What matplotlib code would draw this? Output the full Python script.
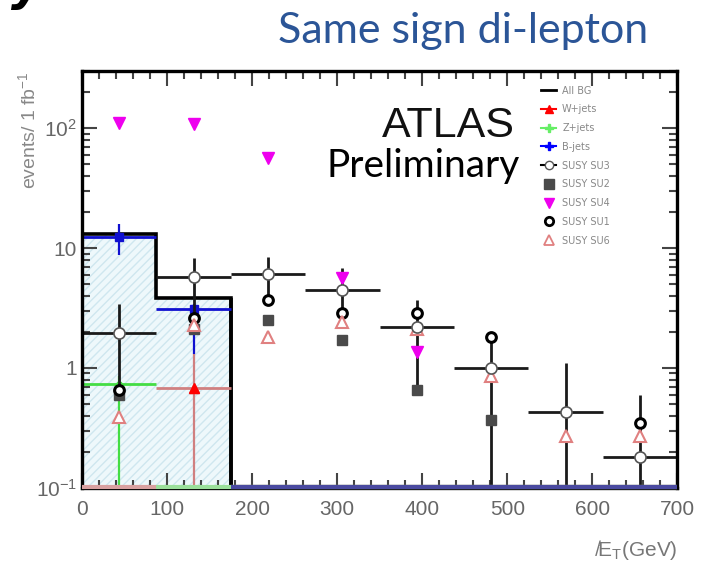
import numpy as np
import matplotlib.pyplot as plt
from matplotlib import font_manager
from matplotlib.lines import Line2D
from matplotlib.ticker import FixedLocator, FixedFormatter, MultipleLocator, LogLocator, NullFormatter

names = {f.name for f in font_manager.fontManager.ttflist}
narrow = 'Liberation Sans Narrow' if 'Liberation Sans Narrow' in names else 'Liberation Sans'
plt.rcParams['mathtext.fontset'] = 'custom'
plt.rcParams['mathtext.rm'] = narrow
plt.rcParams['mathtext.it'] = narrow

# histogram bins (GeV)
edges = [0, 87.5, 175, 262.5, 350, 437.5, 525, 612.5, 700]
centers = [43.75, 131.25, 218.75, 306.25, 393.75, 481.25, 568.75, 656.25]
FLOOR = 0.1

# backgrounds
all_bg = [13.1, 3.85, 0, 0, 0, 0, 0, 0]
w_jets = [0, 0.68, 0, 0, 0, 0, 0, 0]
w_hi = [0, 1.3, 0, 0, 0, 0, 0, 0]
z_jets = [0.74, 0, 0, 0, 0, 0, 0, 0]
z_hi = [0.85, 0, 0, 0, 0, 0, 0, 0]
b_jets = [12.5, 3.1, 0, 0, 0, 0, 0, 0]
b_lo = [8.7, 1.3, 0, 0, 0, 0, 0, 0]
b_hi = [16.0, 3.4, 0, 0, 0, 0, 0, 0]

# signal points
su3 = [1.95, 5.7, 6.1, 4.5, 2.2, 1.0, 0.43, 0.18]
su3_lo = [0.62, 2.0, 3.9, 2.8, 0.65, 0.1, 0.1, 0.1]
su3_hi = [3.4, 8.3, 8.5, 6.8, 3.7, 2.0, 1.1, 0.6]
su2 = [0.6, 2.1, 2.5, 1.7, 0.66, 0.37, np.nan, np.nan]
su4 = [110, 108, 56, 5.6, 1.36, np.nan, np.nan, np.nan]
su1 = [0.66, 2.6, 3.7, 2.9, 2.85, 1.8, np.nan, 0.35]
su6 = [0.39, 2.3, 1.8, 2.4, 2.1, 0.86, 0.27, 0.27]

fig = plt.figure(figsize=(7.07, 5.64), dpi=100)
ax = fig.add_axes([0.116, 0.135, 0.842, 0.739])

x = np.array(centers)
half = np.diff(edges) / 2


def floored(v):
    return np.where(np.array(v) > 0, v, FLOOR)


# filled all-BG histogram
bg = floored(all_bg)
ax.stairs(bg, edges, baseline=FLOOR, fill=True, facecolor='#eef8fb',
          edgecolor='#cfe7ef', hatch='////', lw=0)

# zero bins drawn on the floor (over the bottom spine)
for vals, col in [(all_bg, 'k'), (w_jets, '#d9a0a0'), (z_jets, '#9be09b'), (b_jets, '#4a4aa0')]:
    for i, v in enumerate(vals):
        if v == 0:
            ax.hlines(FLOOR * 1.01, edges[i], edges[i + 1], color=col, lw=3, clip_on=False, zorder=11)

ax.stairs(bg, edges, baseline=None, color='k', lw=2.6, zorder=4)
ax.vlines(edges[2], FLOOR, bg[1], color='k', lw=2.6, zorder=4)

# background components with errors
def bkg(vals, lo, hi, col, mk, ms, ls='-'):
    for i, v in enumerate(vals):
        if v > 0:
            ax.hlines(v, edges[i], edges[i + 1], color=col, lw=2, zorder=5)
            ax.vlines(x[i], lo[i], hi[i], color=col, lw=1.6, linestyles=ls, zorder=5)
            ax.plot(x[i], v, marker=mk, ms=ms, color=col, zorder=6)


bkg(w_jets, [FLOOR] * 8, w_hi, '#d08080', '^', 7)
ax.plot(x[1], w_jets[1], '^', ms=7, color='red', zorder=7)
bkg(z_jets, [FLOOR] * 8, z_hi, '#44dd44', 's', 3)
bkg(b_jets, b_lo, b_hi, '#1010d0', 's', 6)

# signal
ax.errorbar(x, su3, xerr=half,
            yerr=[np.array(su3) - np.array(su3_lo), np.array(su3_hi) - np.array(su3)],
            fmt='none', ecolor='#1a1a1a', elinewidth=2, zorder=6)
ax.plot(x, su2, 's', ms=7, color='#4a4a4a', zorder=7)
ax.plot(x, su4, 'v', ms=8, color='#ee00ee', zorder=7)
ax.plot(x, su1, 'o', ms=7, mfc='white', mec='black', mew=2.2, zorder=7)
ax.plot(x, su6, '^', ms=8, mfc='white', mec='#e08080', mew=1.5, zorder=7)
ax.plot(x, su3, 'o', ms=8, mfc='white', mec='#555555', mew=1.2, zorder=8)

ax.set_yscale('log')
ax.set_xlim(0, 700)
ax.set_ylim(0.1, 300)

ax.xaxis.set_major_locator(MultipleLocator(100))
ax.xaxis.set_minor_locator(MultipleLocator(20))
ax.yaxis.set_major_locator(FixedLocator([0.1, 1, 10, 100]))
ax.yaxis.set_major_formatter(FixedFormatter(['$10^{-1}$', '1', '10', '$10^{2}$']))
ax.yaxis.set_minor_locator(LogLocator(base=10, subs=np.arange(2, 10)))
ax.yaxis.set_minor_formatter(NullFormatter())
ax.tick_params(which='both', direction='in', top=True, right=True, color='#444444',
               labelcolor='#666666', labelsize=15)
ax.tick_params(which='major', length=11, width=1.5)
ax.tick_params(which='minor', length=6, width=1.5)
ax.tick_params(axis='x', which='major', pad=9)
for lab in ax.get_xticklabels() + ax.get_yticklabels():
    lab.set_fontfamily(narrow)
for sp in ax.spines.values():
    sp.set_linewidth(2.4)
    sp.set_zorder(10)

ax.text(0.504, 0.868, 'ATLAS', transform=ax.transAxes, fontsize=31,
        family='Liberation Sans', color='#111111', va='center')
ax.text(0.41, 0.772, 'Preliminary', transform=ax.transAxes, fontsize=28,
        family='Lato', color='black', va='center')

handles = [
    Line2D([], [], color='black', lw=2),
    Line2D([], [], color='red', lw=1.5, marker='^', ms=6),
    Line2D([], [], color='#66ee66', lw=1.5, marker='P', ms=6),
    Line2D([], [], color='blue', lw=1.5, marker='P', ms=6),
    Line2D([], [], color='black', lw=1.5, marker='o', ms=6, mfc='white', mec='#555555'),
    Line2D([], [], ls='none', marker='s', ms=7, color='#4a4a4a'),
    Line2D([], [], ls='none', marker='v', ms=7, color='#ee00ee'),
    Line2D([], [], ls='none', marker='o', ms=6, mfc='white', mec='black', mew=2),
    Line2D([], [], ls='none', marker='^', ms=7, mfc='white', mec='#e08080', mew=1.3),
]
labels = ['All BG', 'W+jets', 'Z+jets', 'B-jets', 'SUSY SU3', 'SUSY SU2',
          'SUSY SU4', 'SUSY SU1', 'SUSY SU6']
leg = fig.legend(handles, labels, loc='upper left', bbox_to_anchor=(0.758, 0.857),
                 frameon=False, fontsize=7, handlelength=1.6, labelspacing=0.9,
                 handletextpad=0.6, borderpad=0)
for t in leg.get_texts():
    t.set_color('#888888')

fig.text(0.04, 0.77, 'events/ 1 fb$^{-1}$', rotation=90, color='#888888',
         fontsize=14, family=narrow, ha='center', va='center')
fig.text(0.958, 0.004, r'$\not{E}_{\rm T}$(GeV)', color='#777777', fontsize=15,
         family=narrow, ha='right', va='bottom')
fig.text(0.655, 0.945, 'Same sign di-lepton', color='#2b5597', fontsize=31,
         family='Lato', ha='center', va='center')
fig.text(0.015, 1.0, 'y', color='black', fontsize=34, fontweight='bold',
         style='italic', ha='left', va='baseline')

fig.savefig('out.png', dpi=100)
